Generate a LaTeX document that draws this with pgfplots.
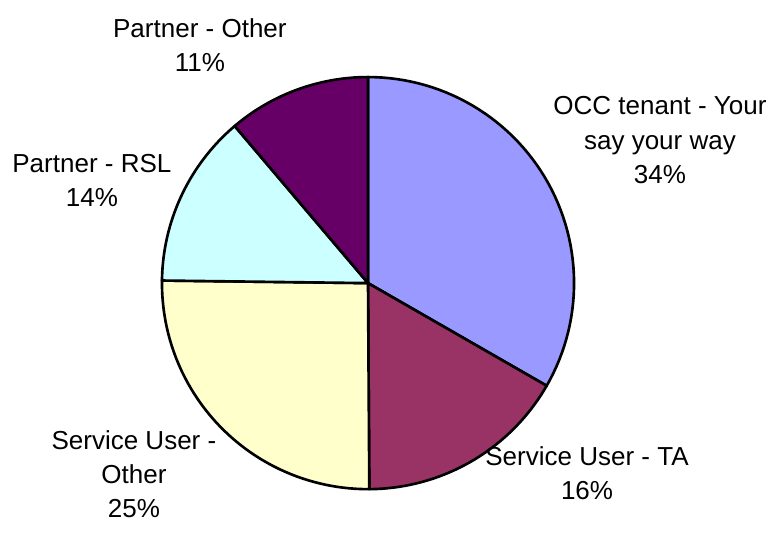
\documentclass[border=0pt]{standalone}
\usepackage{pgfplots}
\pgfplotsset{compat=1.18}
\usepackage{fontspec}
\setmainfont{Liberation Sans}
\definecolor{cOCC}{HTML}{9999FF}
\definecolor{cTA}{HTML}{993366}
\definecolor{cSUO}{HTML}{FFFFCC}
\definecolor{cRSL}{HTML}{CCFFFF}
\definecolor{cPO}{HTML}{660066}
\tikzset{lbl/.style={font=\fontsize{7.4}{9.7}\selectfont, align=center, inner sep=0pt}}
\begin{document}
\begin{tikzpicture}
\begin{axis}[
  x=2.06cm, y=2.06cm,
  xmin=-1.786, xmax=1.951, ymin=-1.209, ymax=1.374,
  hide axis, clip=false,
]
% pie slices: domain = cumulative percentage range (start:end)
% OCC tenant 33.3, Service User TA 16.6, Service User Other 25.3, Partner RSL 13.6, Partner Other 11.2
\addplot[fill=cOCC, draw=black, line width=0.75pt, line join=round, domain=0:33.3, samples=60]
  ({cos(90-3.6*x)}, {sin(90-3.6*x)}) -- (axis cs:0,0) -- cycle;
\addplot[fill=cTA, draw=black, line width=0.75pt, line join=round, domain=33.3:49.9, samples=40]
  ({cos(90-3.6*x)}, {sin(90-3.6*x)}) -- (axis cs:0,0) -- cycle;
\addplot[fill=cSUO, draw=black, line width=0.75pt, line join=round, domain=49.9:75.2, samples=50]
  ({cos(90-3.6*x)}, {sin(90-3.6*x)}) -- (axis cs:0,0) -- cycle;
\addplot[fill=cRSL, draw=black, line width=0.75pt, line join=round, domain=75.2:88.8, samples=40]
  ({cos(90-3.6*x)}, {sin(90-3.6*x)}) -- (axis cs:0,0) -- cycle;
\addplot[fill=cPO, draw=black, line width=0.75pt, line join=round, domain=88.8:100, samples=40]
  ({cos(90-3.6*x)}, {sin(90-3.6*x)}) -- (axis cs:0,0) -- cycle;
\node[lbl] at (axis cs:1.417,0.694) {OCC tenant - Your\\say your way\\34\%};
\node[lbl] at (axis cs:1.063,-0.922) {Service User - TA\\16\%};
\node[lbl] at (axis cs:-1.136,-0.927) {Service User -\\Other\\25\%};
\node[lbl] at (axis cs:-1.340,0.500) {Partner - RSL\\14\%};
\node[lbl] at (axis cs:-0.816,1.155) {Partner - Other\\11\%};
\path (rel axis cs:0,0) rectangle (rel axis cs:1,1);
\end{axis}
\end{tikzpicture}
\end{document}
